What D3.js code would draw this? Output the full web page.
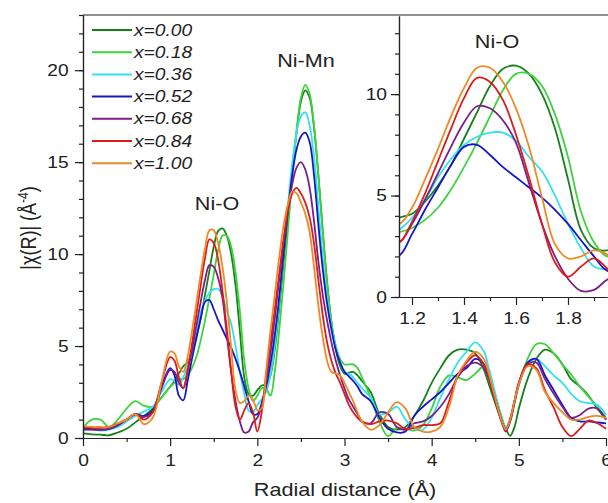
<!DOCTYPE html>
<html>
<head>
<meta charset="utf-8">
<script src="https://cdn.jsdelivr.net/npm/d3@7"></script>
<style>
  body { margin: 0; background: #fff; }
  svg { display: block; font-family: "Liberation Sans", Arial, sans-serif; }
</style>
</head>
<body>
<div id="chart"></div>
<script>
// radial distance grid (Å), finer where the peaks are sharp
const radius = [
  0, 0.1, 0.2, 0.3, 0.4, 0.5, 0.6, 0.7, 0.8, 0.9,
  1, 1.05, 1.1, 1.15, 1.2, 1.25, 1.3, 1.35, 1.4, 1.45, 1.5, 1.55, 1.6, 1.65, 1.7, 1.75, 1.8, 1.85, 1.9, 1.95,
  2, 2.05, 2.1, 2.15, 2.2, 2.25, 2.3, 2.35, 2.4, 2.45, 2.5, 2.55, 2.6, 2.65, 2.7, 2.75, 2.8, 2.85, 2.9, 2.95, 3, 3.05, 3.1, 3.15, 3.2,
  3.3, 3.4, 3.5, 3.6, 3.7, 3.8, 3.9, 4, 4.1, 4.2, 4.3, 4.4, 4.5, 4.6,
  4.65, 4.7, 4.75, 4.8, 4.85, 4.9, 4.95, 5,
  5.1, 5.2, 5.3, 5.4, 5.5, 5.6, 5.7, 5.8, 5.9, 6
];

const chi000 = [
  0.25, 0.2, 0.18, 0.15, 0.3, 0.5, 0.85, 1.2, 1.6, 2.2,
  2.8, 3.1, 3.5, 3.9, 4.1, 4.7, 5.5, 6.5, 7.8, 9.1, 10.4, 11.25, 11.4, 11.0, 10.0, 8.3, 5.8, 3.3, 2.4, 2.3,
  2.6, 2.85, 2.9, 3.4, 4.8, 7.0, 9.5, 12.0, 14.6, 16.6, 18.3, 18.9, 18.5, 16.9, 14.3, 11.3, 8.5, 6.3, 4.8, 3.9, 3.5, 3.55, 3.6, 3.4, 3.1,
  2.5, 1.3, 0.6, 0.45, 0.6, 1.2, 2.0, 3.0, 3.8, 4.5, 4.8, 4.8, 4.6, 3.7,
  3.0, 2.3, 1.6, 1.0, 0.5, 0.12, 0.6, 1.6,
  3.2, 4.3, 4.8, 4.6, 4.0, 3.2, 2.8, 2.3, 1.6, 1.0
];
const chi018 = [
  0.55, 1.0, 1.0, 0.6, 1.0, 1.6, 2.0, 1.75, 1.7, 2.2,
  2.8, 3.0, 3.2, 3.2, 3.4, 3.8, 4.4, 5.3, 6.4, 7.6, 8.9, 10.2, 11.0, 11.0, 10.4, 9.0, 6.9, 4.2, 2.7, 2.0,
  2.3, 2.7, 2.7, 2.3, 3.6, 5.8, 8.4, 11.2, 14.1, 16.7, 18.5, 19.2, 18.7, 17.0, 14.3, 11.2, 8.4, 6.3, 5.0, 4.3, 4.0, 4.0, 4.0, 3.8, 3.3,
  2.2, 0.9, 0.1, 0.55, 0.5, 0.4, 0.7, 1.6, 2.8, 3.4, 3.3, 3.15, 3.5, 3.9,
  3.5, 2.8, 2.0, 1.2, 0.6, 0.9, 1.9, 2.9,
  4.3, 5.1, 5.1, 4.6, 4.0, 3.45, 2.8, 2.25, 1.7, 1.1
];
const chi036 = [
  0.45, 0.45, 0.4, 0.45, 0.6, 0.9, 1.2, 1.45, 1.7, 2.5,
  3.2, 3.1, 2.9, 3.3, 3.9, 4.8, 5.9, 6.8, 7.5, 7.9, 8.1, 8.1, 7.7, 6.9, 6.2, 5.0, 3.6, 2.4, 1.5, 1.4,
  1.8, 2.1, 2.5, 3.4, 5.0, 7.3, 10.0, 12.6, 14.9, 16.6, 17.5, 17.7, 17.0, 15.3, 12.6, 9.8, 7.6, 6.1, 5.0, 4.1, 3.6, 3.5, 3.3, 3.0, 2.7,
  2.2, 1.3, 1.4, 1.7, 1.0, 0.5, 0.45, 1.1, 2.2, 3.2, 4.1, 4.7, 5.2, 4.7,
  3.9, 3.0, 2.0, 1.1, 0.55, 1.1, 2.0, 2.9,
  4.0, 4.3, 3.9, 3.4, 3.0, 2.4, 2.0, 1.9, 1.8, 1.25
];
const chi052 = [
  0.5, 0.5, 0.45, 0.5, 0.7, 1.0, 1.3, 1.2, 1.5, 2.8,
  3.8, 3.4, 2.3, 2.05, 3.1, 4.3, 5.4, 6.5, 7.4, 7.5, 7.0, 6.4, 5.9, 5.4, 4.9, 4.3, 3.6, 2.8, 2.0, 1.3,
  1.3, 1.9, 2.8, 4.0, 5.6, 7.6, 10.0, 12.3, 14.3, 15.7, 16.4, 16.6, 16.1, 14.3, 11.6, 9.2, 7.3, 5.9, 4.8, 4.1, 3.6, 3.35, 3.1, 2.8, 2.4,
  2.0, 1.1, 0.5, 0.3, 0.35, 1.2, 1.7, 2.1, 2.5, 3.0, 3.5, 3.8, 4.3, 4.0,
  3.4, 2.6, 1.8, 1.0, 0.45, 1.0, 2.0, 3.0,
  4.1, 4.3, 3.4, 2.6, 1.8, 1.1, 0.9, 0.9, 0.85, 0.8
];
const chi068 = [
  0.45, 0.45, 0.45, 0.5, 0.7, 1.0, 1.3, 1.15, 1.4, 2.7,
  3.7, 3.6, 3.0, 2.7, 3.6, 4.8, 6.1, 7.4, 8.6, 9.4, 9.3, 8.7, 7.6, 5.6, 3.6, 2.0, 0.9, 0.3, 0.35, 0.85,
  1.1, 1.8, 3.0, 4.6, 6.5, 8.6, 10.6, 12.4, 13.8, 14.7, 15.0, 14.6, 13.6, 11.8, 9.6, 7.8, 6.4, 5.2, 4.2, 3.4, 2.7, 2.1, 1.7, 1.3, 0.9,
  0.8, 1.4, 1.3, 0.6, 0.45, 0.8, 0.9, 1.2, 1.7, 2.4, 3.3, 3.9, 4.1, 3.8,
  3.3, 2.5, 1.7, 0.95, 0.35, 0.9, 1.9, 2.9,
  4.0, 4.1, 3.2, 2.4, 1.7, 1.1, 1.25, 1.6, 1.6, 1.0
];
const chi084 = [
  0.6, 0.55, 0.55, 0.6, 0.8, 1.0, 1.3, 1.0, 1.4, 3.0,
  4.4, 4.2, 3.3, 2.7, 3.7, 5.1, 6.7, 8.3, 9.8, 10.8, 10.6, 9.7, 8.0, 5.9, 3.6, 1.7, 1.0, 1.5, 1.9, 1.4,
  0.35, 1.4, 3.4, 5.2, 7.0, 8.9, 10.8, 12.3, 13.3, 13.6, 13.3, 12.8, 12.0, 10.6, 8.6, 6.7, 5.2, 4.2, 3.5, 3.0, 2.4, 1.8, 1.4, 1.1, 0.9,
  0.75, 0.9, 0.95, 0.8, 0.5, 0.55, 0.7, 0.7, 0.8, 2.0, 3.4, 4.1, 4.5, 4.0,
  3.4, 2.6, 1.7, 0.9, 0.4, 1.0, 2.0, 3.0,
  4.0, 3.8, 2.6, 1.65, 0.6, 0.1, 0.5, 0.95, 0.8, 0.5
];
const chi100 = [
  0.65, 0.6, 0.6, 0.6, 0.8, 1.0, 1.3, 0.75, 1.1, 3.0,
  4.7, 4.6, 3.9, 3.6, 4.4, 5.8, 7.3, 8.9, 10.3, 11.3, 11.3, 10.6, 9.3, 7.4, 4.9, 2.6, 1.9, 2.0, 2.3, 2.1,
  1.5, 1.6, 3.6, 5.8, 7.8, 9.8, 11.5, 12.7, 13.4, 13.3, 12.8, 12.2, 11.2, 9.3, 7.2, 5.5, 4.2, 3.6, 3.5, 3.4, 3.0, 2.5, 2.0, 1.4, 0.9,
  0.45, 0.7, 1.4, 1.95, 1.6, 0.6, 0.35, 0.35, 0.6, 1.7, 3.4, 4.2, 4.7, 4.3,
  3.6, 2.7, 1.8, 1.0, 0.45, 1.0, 2.0, 2.9,
  3.9, 3.7, 2.5, 1.9, 1.4, 1.0, 1.0, 1.15, 1.2, 1.1
];

const seriesNames = ["x=0.00", "x=0.18", "x=0.36", "x=0.52", "x=0.68", "x=0.84", "x=1.00"];
const seriesColors = ["#17801c", "#3cd43c", "#34e0ee", "#1616c8", "#7a1e88", "#dc1c1c", "#ee8a25"];
const chiSeries = [chi000, chi018, chi036, chi052, chi068, chi084, chi100];

const mainXTicks = [0, 1, 2, 3, 4, 5, 6];
const mainYTicks = [0, 5, 10, 15, 20];
const insetXTicks = [1.2, 1.4, 1.6, 1.8];
const insetYTicks = [0, 5, 10];

const W = 608, H = 503;
const STRETCH = 1.2; // the figure is a bit wider than tall-set text

const svg = d3.select("#chart").append("svg")
    .attr("width", W)
    .attr("height", H);

const x = d3.scaleLinear().domain([0, 6]).range([83, 606]);
const y = d3.scaleLinear().domain([0, 23]).range([438, 15]);

const xi = d3.scaleLinear().domain([1.15, 1.95]).range([399, 607]);
const yi = d3.scaleLinear().domain([0, 13.85]).range([297, 16]);

const defs = svg.append("defs");
defs.append("clipPath").attr("id", "clipMain")
    .append("rect").attr("x", 83).attr("y", 15).attr("width", W - 83).attr("height", 438 - 15);
defs.append("clipPath").attr("id", "clipInset")
    .append("rect").attr("x", 399).attr("y", 16).attr("width", W - 399).attr("height", 297 - 16);

function lineFor(xs, ys) {
    return d3.line()
        .x((d, i) => xs(radius[i]))
        .y(d => ys(d))
        .curve(d3.curveCatmullRom.alpha(0.5));
}

// main curves
const mainLine = lineFor(x, y);
svg.append("g").attr("clip-path", "url(#clipMain)")
    .selectAll("path")
    .data(chiSeries)
    .join("path")
    .attr("d", d => mainLine(d))
    .attr("fill", "none")
    .attr("stroke", (d, i) => seriesColors[i])
    .attr("stroke-width", 1.8)
    .attr("stroke-linejoin", "round");

function styleAxis(g) {
    g.selectAll("path, line").attr("stroke", "#222").attr("stroke-width", 1.2);
    g.selectAll("text").attr("fill", "#222").attr("font-size", 16)
        .attr("font-family", "'Liberation Sans', Arial, sans-serif")
        .attr("transform", `scale(${STRETCH},1)`);
}

// main axes: minor ticks first, then labelled ones
svg.append("g").attr("transform", "translate(0,438)")
    .call(d3.axisBottom(x).tickValues(d3.range(0.5, 6, 1)).tickSize(4).tickFormat("").tickSizeOuter(0))
    .call(styleAxis);
svg.append("g").attr("transform", "translate(0,438)")
    .call(d3.axisBottom(x).tickValues(mainXTicks).tickSize(8).tickPadding(9).tickFormat(d3.format("d")).tickSizeOuter(0))
    .call(styleAxis);
svg.append("g").attr("transform", "translate(83,0)")
    .call(d3.axisLeft(y).tickValues(d3.range(0, 24, 1)).tickSize(4).tickFormat("").tickSizeOuter(0))
    .call(styleAxis);
svg.append("g").attr("transform", "translate(83,0)")
    .call(d3.axisLeft(y).tickValues(mainYTicks).tickSize(8).tickPadding(4).tickFormat(d3.format("d")).tickSizeOuter(0))
    .call(styleAxis);

svg.append("line")
    .attr("x1", 83).attr("x2", W).attr("y1", 15).attr("y2", 15)
    .attr("stroke", "#222").attr("stroke-width", 1.2);

function stretchedText(px, py, str, size, anchor) {
    return svg.append("g")
        .attr("transform", `translate(${px},${py}) scale(${STRETCH},1)`)
        .append("text")
        .attr("text-anchor", anchor || "middle")
        .attr("font-size", size)
        .attr("fill", "#222")
        .text(str);
}

// legend
const legend = svg.append("g");
seriesNames.forEach((name, i) => {
    const ly = 30 + i * 22.2;
    legend.append("line")
        .attr("x1", 92).attr("x2", 132).attr("y1", ly).attr("y2", ly)
        .attr("stroke", seriesColors[i]).attr("stroke-width", 2);
    stretchedText(134, ly + 5.5, name, 16, "start").attr("font-style", "italic");
});

// peak labels
stretchedText(306, 67, "Ni-Mn", 18);
stretchedText(217, 210, "Ni-O", 18);

// axis titles
stretchedText(345, 496, "Radial distance (Å)", 18);

const yTitle = svg.append("g")
    .attr("transform", `translate(36,228) scale(${STRETCH},1) rotate(-90)`)
    .append("text")
    .attr("text-anchor", "middle")
    .attr("font-size", 18)
    .attr("fill", "#222");
yTitle.append("tspan").text("|χ(R)| (Å");
yTitle.append("tspan").attr("font-size", 12).attr("dy", -7).text("-4");
yTitle.append("tspan").attr("dy", 7).text(")");

// inset
svg.append("rect")
    .attr("x", 399).attr("y", 16).attr("width", W - 399).attr("height", 297 - 16)
    .attr("fill", "#fff");

const insetLine = lineFor(xi, yi);
svg.append("g").attr("clip-path", "url(#clipInset)")
    .selectAll("path")
    .data(chiSeries)
    .join("path")
    .attr("d", d => insetLine(d))
    .attr("fill", "none")
    .attr("stroke", (d, i) => seriesColors[i])
    .attr("stroke-width", 1.8)
    .attr("stroke-linejoin", "round");

svg.append("g").attr("transform", "translate(0,297)")
    .call(d3.axisBottom(xi).tickValues([1.3, 1.5, 1.7, 1.9]).tickSize(4).tickFormat("").tickSizeOuter(0))
    .call(styleAxis);
svg.append("g").attr("transform", "translate(0,297)")
    .call(d3.axisBottom(xi).tickValues(insetXTicks).tickSize(8).tickPadding(8).tickFormat(d3.format(".1f")).tickSizeOuter(0))
    .call(styleAxis);
svg.append("g").attr("transform", "translate(399,0)")
    .call(d3.axisLeft(yi).tickValues(d3.range(0, 14, 1)).tickSize(4).tickFormat("").tickSizeOuter(0))
    .call(styleAxis);
svg.append("g").attr("transform", "translate(399,0)")
    .call(d3.axisLeft(yi).tickValues(insetYTicks).tickSize(8).tickPadding(2).tickFormat(d3.format("d")).tickSizeOuter(0))
    .call(styleAxis);

stretchedText(497, 48, "Ni-O", 18);
</script>
</body>
</html>
